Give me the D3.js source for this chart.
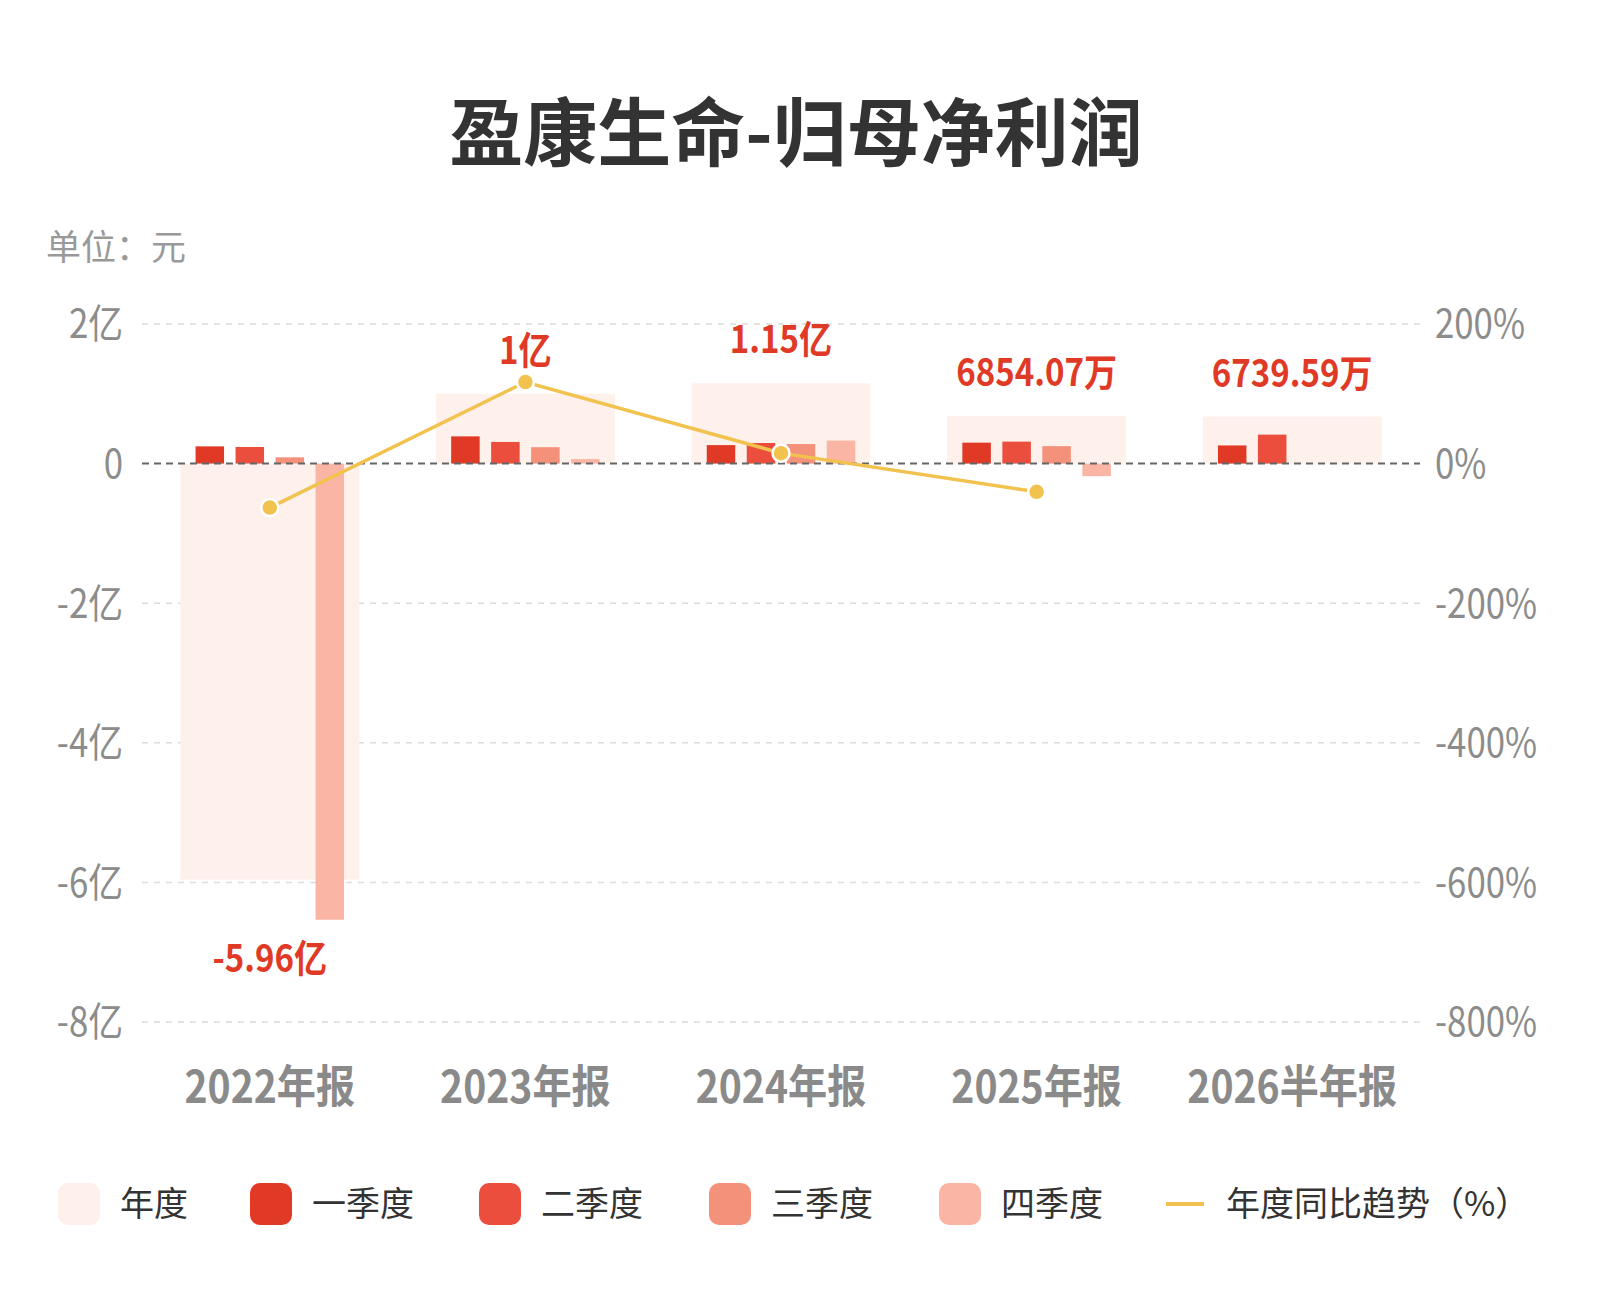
<!DOCTYPE html>
<html>
<head>
<meta charset="utf-8">
<script src="https://cdn.jsdelivr.net/npm/d3@7"></script>
<style>
  body { margin: 0; background: #fff; }
  svg { display: block; }
  .num { font-family: "Noto Sans CJK SC", sans-serif; }
  .cjk { font-family: "Noto Sans CJK SC", sans-serif; }
</style>
</head>
<body>
<svg class="chart"></svg>
<script>
// data, values in 元 / %
var categories = ["2022年报", "2023年报", "2024年报", "2025年报", "2026半年报"];
var annual = [-5.96e8, 1.0e8, 1.15e8, 68540700, 67395900];
var q1 = [0.247e8, 0.39e8, 0.265e8, 0.30e8, 0.26e8];
var q2 = [0.238e8, 0.31e8, 0.295e8, 0.315e8, 0.415e8];
var q3 = [0.09e8, 0.235e8, 0.28e8, 0.25e8, null];
var q4 = [-6.535e8, 0.065e8, 0.33e8, -0.18e8, null];
var yoy = [-63, 116.8, 15, -40.4, null];
var leftTicks = [-8e8, -6e8, -4e8, -2e8, 0, 2e8];
var rightTicks = [-800, -600, -400, -200, 0, 200];
var legendNames = ["年度", "一季度", "二季度", "三季度", "四季度", "年度同比趋势（%）"];

var colors = {
    annual: "#fef0eb",
    q: ["#e03a27", "#ec4e3d", "#f4917a", "#fbb5a4"],
    line: "#f2c24f",
    label: "#e03a26"
};

function show() {
    'use strict';

    var W = 1600, H = 1300;
    var svg = d3.select(".chart").attr("width", W).attr("height", H);

    var x = d3.scaleBand().domain(categories).range([142, 1420]).padding(0);
    var y = d3.scaleLinear().domain([-8e8, 2e8]).range([1022, 324]);
    var yR = d3.scaleLinear().domain([-800, 200]).range([1022, 324]);
    var cx = function(i) { return x(categories[i]) + x.bandwidth() / 2; };

    // numbers in the original use a narrow face, squeeze them a bit
    var narrow = 0.87;
    function place(tx, ty) { return "translate(" + tx + "," + ty + ") scale(" + narrow + ",1)"; }

    // title + unit
    svg.append("text").attr("class", "cjk")
        .attr("x", 796).attr("y", 160)
        .attr("text-anchor", "middle")
        .attr("font-size", 74).attr("font-weight", "bold")
        .attr("fill", "#333")
        .text("盈康生命-归母净利润");

    svg.append("text").attr("class", "cjk")
        .attr("x", 46).attr("y", 260)
        .attr("font-size", 35).attr("fill", "#999")
        .text("单位：元");

    // gridlines
    svg.append("g").selectAll("line")
        .data(leftTicks.filter(function(d) { return d !== 0; }))
        .enter().append("line")
        .attr("x1", 142).attr("x2", 1420)
        .attr("y1", function(d) { return y(d); })
        .attr("y2", function(d) { return y(d); })
        .attr("stroke", "#dcdcdc").attr("stroke-width", 1.5)
        .attr("stroke-dasharray", "6,6");

    // left axis labels
    var fmtAxis = function(d) { return d === 0 ? "0" : (d / 1e8) + "亿"; };
    svg.append("g").selectAll("text").data(leftTicks).enter().append("text")
        .attr("class", "num")
        .attr("transform", function(d) { return place(123, y(d)); })
        .attr("dy", "0.36em")
        .attr("text-anchor", "end")
        .attr("font-size", 40).attr("fill", "#8c8c8c")
        .text(fmtAxis);

    // right axis labels
    svg.append("g").selectAll("text").data(rightTicks).enter().append("text")
        .attr("class", "num")
        .attr("transform", function(d) { return place(1435, yR(d)); })
        .attr("dy", "0.36em")
        .attr("font-size", 40).attr("fill", "#8c8c8c")
        .text(function(d) { return d + "%"; });

    // annual background bars
    var aw = x.bandwidth() * 0.7;
    svg.append("g").selectAll("rect").data(annual).enter().append("rect")
        .attr("x", function(d, i) { return cx(i) - aw / 2; })
        .attr("width", aw)
        .attr("y", function(d) { return y(Math.max(0, d)); })
        .attr("height", function(d) { return Math.abs(y(d) - y(0)); })
        .attr("fill", colors.annual);

    // quarter bars
    var slot = 40, bw = 28.5;
    [q1, q2, q3, q4].forEach(function(series, k) {
        svg.append("g").selectAll("rect")
            .data(series.map(function(v, i) { return { v: v, i: i }; })
                .filter(function(d) { return d.v !== null; }))
            .enter().append("rect")
            .attr("x", function(d) { return cx(d.i) + (k - 1.5) * slot - bw / 2; })
            .attr("width", bw)
            .attr("y", function(d) { return y(Math.max(0, d.v)); })
            .attr("height", function(d) { return Math.abs(y(d.v) - y(0)); })
            .attr("fill", colors.q[k]);
    });

    // zero line
    svg.append("line")
        .attr("x1", 142).attr("x2", 1420)
        .attr("y1", y(0)).attr("y2", y(0))
        .attr("stroke", "#666").attr("stroke-width", 2)
        .attr("stroke-dasharray", "7,5");

    // yoy line
    var pts = yoy.map(function(v, i) { return { v: v, i: i }; })
        .filter(function(d) { return d.v !== null; });
    var line = d3.line()
        .x(function(d) { return cx(d.i); })
        .y(function(d) { return yR(d.v); });
    svg.append("path").datum(pts)
        .attr("d", line)
        .attr("fill", "none")
        .attr("stroke", colors.line).attr("stroke-width", 3.5);
    svg.append("g").selectAll("circle").data(pts).enter().append("circle")
        .attr("cx", function(d) { return cx(d.i); })
        .attr("cy", function(d) { return yR(d.v); })
        .attr("r", 8.5)
        .attr("fill", colors.line)
        .attr("stroke", "#fff").attr("stroke-width", 2.5);

    // value labels
    function fmtVal(v) {
        if (Math.abs(v) >= 1e8) return (+(v / 1e8).toFixed(2)) + "亿";
        return (v / 1e4).toFixed(2) + "万";
    }
    svg.append("g").selectAll("text").data(annual).enter().append("text")
        .attr("class", "num")
        .attr("transform", function(d, i) {
            var vals = [d, q1[i], q2[i], q3[i], q4[i]].filter(function(v) { return v !== null; });
            var ty = d >= 0 ? y(d3.max(vals)) - 30 : y(d3.min(vals)) + 52;
            return place(cx(i), ty);
        })
        .attr("text-anchor", "middle")
        .attr("font-size", 38).attr("font-weight", "bold")
        .attr("fill", colors.label)
        .text(fmtVal);

    // x labels
    svg.append("g").selectAll("text").data(categories).enter().append("text")
        .attr("class", "num")
        .attr("transform", function(d, i) { return place(cx(i), 1103); })
        .attr("text-anchor", "middle")
        .attr("font-size", 45).attr("font-weight", "bold")
        .attr("fill", "#8a8a8a")
        .text(function(d) { return d; });

    // legend
    var legendX = [58, 250, 479, 709, 939, 1166];
    var ly = 1204;
    var lg = svg.append("g").selectAll("g").data(legendNames).enter().append("g")
        .attr("transform", function(d, i) { return "translate(" + legendX[i] + "," + ly + ")"; });
    lg.each(function(d, i) {
        var g = d3.select(this);
        if (i < 5) {
            g.append("rect").attr("x", 0).attr("y", -21)
                .attr("width", 42).attr("height", 42).attr("rx", 10)
                .attr("fill", i === 0 ? colors.annual : colors.q[i - 1]);
        } else {
            g.append("line").attr("x1", 0).attr("x2", 38)
                .attr("y1", 0).attr("y2", 0)
                .attr("stroke", colors.line).attr("stroke-width", 4);
        }
        g.append("text").attr("class", "cjk")
            .attr("x", i < 5 ? 62 : 60).attr("y", 0)
            .attr("dy", "0.35em")
            .attr("font-size", 34).attr("fill", "#333")
            .text(d);
    });
}

show();
</script>
</body>
</html>
